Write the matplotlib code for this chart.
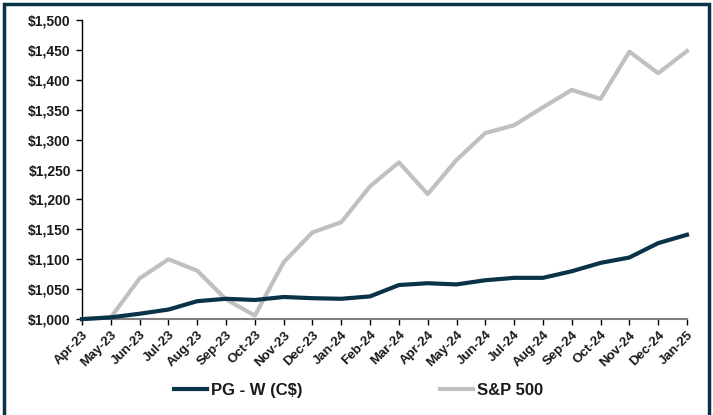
import matplotlib
matplotlib.use("Agg")
import matplotlib.pyplot as plt
from matplotlib.patches import Rectangle
from matplotlib.ticker import FuncFormatter, FixedLocator

months = ["Apr-23", "May-23", "Jun-23", "Jul-23", "Aug-23", "Sep-23", "Oct-23", "Nov-23",
          "Dec-23", "Jan-24", "Feb-24", "Mar-24", "Apr-24", "May-24", "Jun-24", "Jul-24",
          "Aug-24", "Sep-24", "Oct-24", "Nov-24", "Dec-24", "Jan-25"]
pg = [1000, 1003, 1009, 1016, 1030, 1034, 1032, 1037, 1035, 1034, 1038, 1057,
      1060, 1058, 1065, 1069, 1069, 1080, 1094, 1103, 1127, 1141]
sp = [1000, 1003, 1068, 1100, 1081, 1033, 1006, 1095, 1145, 1162, 1222, 1262,
      1209, 1266, 1311, 1324, 1354, 1383, 1368, 1447, 1411, 1448]
yticks = [1000, 1050, 1100, 1150, 1200, 1250, 1300, 1350, 1400, 1450, 1500]

NAVY = "#0b3347"
GRAY = "#c0c0c0"

plt.rcParams['font.family'] = ['Liberation Sans', 'DejaVu Sans']
plt.rcParams['font.weight'] = 'bold'

fig = plt.figure(figsize=(7.13, 4.15), dpi=100)
ax = fig.add_axes([0.115, 0.231, 0.8485, 0.721])

x = list(range(len(months)))
ax.plot(x, sp, color=GRAY, lw=3.0, label="S&P 500", clip_on=False, zorder=2)
ax.plot(x, pg, color=NAVY, lw=3.0, label="PG - W (C$)", clip_on=False, zorder=3)

ax.set_xlim(0, len(months) - 1)
ax.set_ylim(1000, 1500)
ax.yaxis.set_major_locator(FixedLocator(yticks))
ax.yaxis.set_major_formatter(FuncFormatter(lambda v, p: "${:,.0f}".format(v)))
ax.set_xticks(x)
ax.set_xticklabels(months, rotation=45, ha='right', rotation_mode='anchor',
                   fontweight='bold', fontsize=9.5)

for s in ["top", "right"]:
    ax.spines[s].set_visible(False)
ax.spines["left"].set_color("black")
ax.spines["left"].set_linewidth(1.0)
ax.spines["bottom"].set_color("#808080")
ax.spines["bottom"].set_linewidth(1.5)
ax.tick_params(axis='y', direction='out', length=4, width=1, colors='black', labelsize=10, pad=4)
ax.tick_params(axis='x', direction='out', length=4, width=1, color='black', labelsize=9.5, pad=3)
for lab in ax.get_yticklabels() + ax.get_xticklabels():
    lab.set_fontweight('bold')
    lab.set_color('#1a1a1a')

h, l = ax.get_legend_handles_labels()
leg = fig.legend([h[1], h[0]], [l[1], l[0]], loc='center', bbox_to_anchor=(0.503, 0.06),
                 ncol=2, frameon=False, prop={'weight': 'bold', 'size': 12},
                 handlelength=2.0, handletextpad=0.25, columnspacing=8.2)
for t in leg.get_texts():
    t.set_color('#1a1a1a')

fig.patches.append(Rectangle((4 / 713, -0.05), (709 - 4) / 713, 1.05 - 4.5 / 415,
                             transform=fig.transFigure, fill=False, edgecolor=NAVY,
                             linewidth=2.5, zorder=10))

fig.savefig("out.png", dpi=100)
